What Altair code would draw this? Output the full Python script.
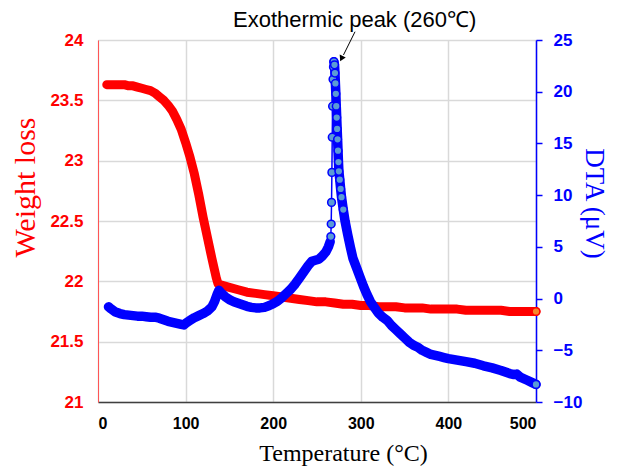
import altair as alt
import pandas as pd

# ---- Weight loss (TGA) ----
W_T = [10, 15, 20, 25, 30, 35, 40, 45, 50, 55, 60, 65, 70, 75, 80, 85, 90, 95,
       100, 105, 110, 115, 120, 125, 130, 135, 137, 140, 145, 150, 160, 170, 180,
       190, 200, 210, 220, 230, 240, 250, 260, 270, 280, 290, 300, 310, 320, 330,
       340, 350, 360, 370, 380, 390, 400, 410, 420, 430, 440, 450, 460, 470, 480,
       490, 500]
W_V = [23.63, 23.63, 23.63, 23.63, 23.63, 23.62, 23.62, 23.61, 23.60, 23.59, 23.58,
       23.56, 23.53, 23.50, 23.46, 23.41, 23.34, 23.26, 23.15, 23.03, 22.89, 22.72,
       22.53, 22.36, 22.19, 22.03, 21.98, 21.97, 21.96, 21.95, 21.93, 21.91, 21.90,
       21.89, 21.88, 21.87, 21.86, 21.85, 21.84, 21.83, 21.83, 21.82, 21.81, 21.81,
       21.80, 21.80, 21.79, 21.79, 21.79, 21.78, 21.78, 21.78, 21.77, 21.77, 21.77,
       21.77, 21.76, 21.76, 21.76, 21.76, 21.76, 21.75, 21.75, 21.75, 21.75]

# ---- DTA ----
D_T = [12, 15, 20, 25, 30, 35, 40, 45, 50, 55, 60, 65, 70, 75, 80, 85, 90, 95, 98,
       100, 105, 110, 115, 120, 125, 130, 133, 136, 138, 140, 145, 150, 155, 160,
       165, 170, 175, 180, 185, 190, 195, 200, 205, 210, 215, 220, 225, 230, 235,
       240, 244, 248, 252, 256, 260, 263, 265,
       265.8, 266.2, 266.6, 267, 267.4, 267.8, 268.3, 268.8, 269.3,
       270, 270.5, 271, 271.5, 272, 272.5, 273, 273.5, 274, 274.5, 275, 276, 277,
       278, 280, 282, 285, 288, 291, 295, 299, 303, 307, 311, 315, 320, 325, 330,
       335, 340, 345, 350, 355, 360, 365, 370, 375, 380, 385, 390, 395, 400, 410,
       420, 430, 440, 450, 460, 470, 475, 478, 482, 490, 495, 500]
D_V = [-0.8, -1.0, -1.3, -1.45, -1.55, -1.6, -1.65, -1.7, -1.7, -1.75, -1.8, -1.8,
       -1.9, -2.05, -2.2, -2.3, -2.4, -2.5, -2.55, -2.4, -2.1, -1.85, -1.65, -1.45,
       -1.2, -0.8, -0.3, 0.4, 0.8, 0.6, 0.2, -0.1, -0.3, -0.45, -0.6, -0.75, -0.85,
       -0.9, -0.9, -0.85, -0.7, -0.5, -0.25, 0.1, 0.5, 0.9, 1.4, 2.0, 2.6, 3.2, 3.6,
       3.7, 3.8, 4.1, 4.5, 5.0, 5.5,
       6.0, 7.2, 9.3, 12.2, 15.6, 18.6, 21.2, 22.4, 22.9,
       22.6, 21.8, 20.8, 19.8, 18.6, 17.5, 16.4, 15.4, 14.3, 13.2, 12.3, 11.5, 10.6,
       9.8, 8.6, 7.5, 6.2, 5.0, 3.9, 3.0, 2.1, 1.2, 0.4, -0.3, -0.8, -1.4, -1.8,
       -2.1, -2.6, -3.0, -3.4, -3.8, -4.2, -4.5, -4.7, -5.0, -5.2, -5.4, -5.5, -5.6,
       -5.7, -5.8, -5.95, -6.1, -6.25, -6.5, -6.7, -6.95, -7.25, -7.35, -7.3, -7.6,
       -7.9, -8.1, -8.3]

# ---- Annotation ----
ANNOT_TEXT = ["Exothermic peak (260\u2103)"]
ANNOT_T = [293]
ANNOT_D = [26.9]
ARROW_T = [293.4]
ARROW_D = [25.8]
ARROW_T2 = [280.2]
ARROW_D2 = [23.55]
HEAD_T = [277.9]
HEAD_D = [23.2]

X_TICKS = [0, 100, 200, 300, 400, 500]
W_TICKS = [21, 21.5, 22, 22.5, 23, 23.5, 24]
D_TICKS = [-10, -5, 0, 5, 10, 15, 20, 25]

RED = "#ff0000"
BLUE = "#0000ff"
ORANGE = "#f8862c"
LIGHTBLUE = "#5b9bd5"

wdf = pd.DataFrame({"T": W_T, "W": W_V})
ddf = pd.DataFrame({"T": D_T, "D": D_V})
adf = pd.DataFrame({"T": ANNOT_T, "D": ANNOT_D, "label": ANNOT_TEXT})
rdf = pd.DataFrame({"T": ARROW_T, "D": ARROW_D, "T2": ARROW_T2, "D2": ARROW_D2})
hdf = pd.DataFrame({"T": HEAD_T, "D": HEAD_D})

xaxis = alt.Axis(values=X_TICKS, grid=True, gridColor="#d9d9d9", gridWidth=1.5,
                 ticks=False, domainColor="#404040", domainWidth=1.5,
                 labelFont="Liberation Sans", labelFontWeight="bold", labelFontSize=16,
                 labelColor="#000000", labelPadding=13,
                 title="Temperature (\u00b0C)", titleFont="Liberation Serif",
                 titleFontWeight="normal", titleFontSize=24, titleColor="#000000",
                 titleX=245, titleY=58, titleBaseline="alphabetic", titleAlign="center")
xenc = alt.X("T:Q", scale=alt.Scale(domain=[0, 500], nice=False), axis=xaxis)

waxis = alt.Axis(values=W_TICKS, format="~g", grid=True, gridColor="#d9d9d9",
                 gridWidth=1.5, ticks=False, domainColor="#ff5555", domainWidth=1,
                 labelFont="Liberation Sans", labelFontWeight="bold", labelFontSize=17,
                 labelColor=RED, labelPadding=15,
                 title="Weight loss", titleFont="Liberation Serif",
                 titleFontWeight="normal", titleFontSize=30, titleColor=RED,
                 titleX=-73, titleY=147, titleAngle=270, titleBaseline="middle",
                 titleAlign="center")
wenc = alt.Y("W:Q", scale=alt.Scale(domain=[21, 24], nice=False, zero=False), axis=waxis)

daxis = alt.Axis(values=D_TICKS, grid=False, ticks=True, tickColor=BLUE, tickSize=6,
                 tickWidth=1.5, domainColor=BLUE, domainWidth=1.5,
                 labelFont="Liberation Sans", labelFontWeight="bold", labelFontSize=17,
                 labelColor=BLUE, labelPadding=11,
                 title="DTA (\u03bcV)", titleFont="Liberation Serif",
                 titleFontWeight="normal", titleFontSize=27, titleColor=BLUE,
                 titleX=57, titleY=163, titleAngle=90, titleBaseline="middle",
                 titleAlign="center")
dscale = alt.Scale(domain=[-10, 25], nice=False, zero=False)
denc = alt.Y("D:Q", scale=dscale, axis=daxis)

# left layers
w_line = alt.Chart(wdf).mark_line(color=RED, strokeWidth=9, strokeCap="round",
                                  strokeJoin="round").encode(x=xenc, y=wenc)
w_end = alt.Chart(wdf).transform_filter("datum.T == 500").mark_point(
    shape="circle", filled=True, fill=ORANGE, stroke=RED, strokeWidth=1.5,
    size=60, opacity=1).encode(x=xenc, y=wenc)
left = alt.layer(w_line, w_end)

# right layers
d_thick = alt.Chart(ddf).transform_calculate(
    seg="datum.T <= 265.5 ? 'a' : (datum.T < 269.2 ? 'b' : 'c')"
).transform_filter("datum.seg != 'b'").mark_line(
    color=BLUE, strokeWidth=9.5, strokeCap="round", strokeJoin="round"
).encode(x=xenc, y=denc, detail="seg:N")
d_thin = alt.Chart(ddf).mark_line(color=BLUE, strokeWidth=1.5).encode(x=xenc, y=denc)
d_pts = alt.Chart(ddf).transform_filter(
    "(datum.T > 265.5 && datum.T <= 280) || datum.T == 500"
).mark_point(shape="circle", filled=True, fill=LIGHTBLUE, stroke=BLUE,
             strokeWidth=1.5, size=60, opacity=1).encode(x=xenc, y=denc)

a_text = alt.Chart(adf).mark_text(font="Liberation Sans", fontSize=22, color="#000000",
                                  baseline="middle", align="center").encode(
    x=xenc, y=denc, text="label:N")
a_rule = alt.Chart(rdf).mark_rule(color="#000000", strokeWidth=1).encode(
    x=xenc, y=denc, x2="T2:Q", y2="D2:Q")
a_head = alt.Chart(hdf).mark_point(shape="triangle-up", filled=True, color="#000000",
                                   size=45, angle=206.6, opacity=1).encode(x=xenc, y=denc)

right = alt.layer(d_thick, d_thin, d_pts, a_rule, a_head, a_text)

chart = alt.layer(left, right).resolve_scale(y="independent").properties(
    width=438, height=362,
    autosize=alt.AutoSizeParams(type="none"),
    padding={"left": 90, "top": 32, "right": 74, "bottom": 65},
).configure_view(stroke="#404040", strokeWidth=1.5).configure(background="white")

chart.save("out.html", embed_options={"renderer": "svg", "actions": False})
